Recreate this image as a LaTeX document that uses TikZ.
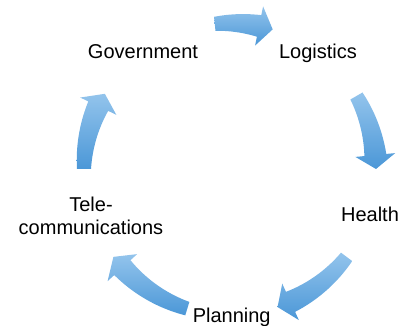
\documentclass[tikz,border=0pt]{standalone}
\usepackage{fontspec}
\setmainfont{Liberation Sans}
\usetikzlibrary{calc}
\usetikzlibrary{positioning}

\definecolor{arrowlight}{HTML}{93C4EC}
\definecolor{arrowdark}{HTML}{4B97D7}

\tikzset{
  topic/.style={font=\fontsize{20}{23}\selectfont, inner sep=0pt},
  cyclearrow/.style={top color=arrowlight, bottom color=arrowdark, draw=none},
}

% tail angle, tip angle (clockwise round O)
\newcommand{\cyclearrow}[2]{%
  \pgfmathsetmacro{\headang}{#2+5.5}
  \shade[cyclearrow, shift={(O)}]
    plot[domain=#1:\headang, samples=25] (\x:{153+4*(\x-(#1))/(\headang-(#1))})
    -- (\headang:166) -- (#2:146) -- (\headang:126)
    -- plot[domain=\headang:#1, samples=25] (\x:{139-4*(\x-(#1))/(\headang-(#1))})
    -- cycle;
}

\begin{document}
\begin{tikzpicture}[x=1pt, y=1pt]
\useasboundingbox (0,0) rectangle (402,326);
\coordinate (O) at (230,157);

\node[topic, anchor=base]        (gov)    at (143,267.5)  {Government};
\node[topic, anchor=base]        (log)    at (318,267.5)  {Logistics};
\node[topic, anchor=base]        (health) at (370,104.3)  {Health};
\node[topic, anchor=base]        (plan)   at (231.7,3.7)  {Planning};
\node[topic, anchor=base, align=center] (tele) at (91,91.3) {Tele-\\communications};

\cyclearrow{96}{73}
\cyclearrow{30}{0}
\cyclearrow{-37}{-71}
\cyclearrow{253}{217}
\cyclearrow{180}{149}
\end{tikzpicture}
\end{document}
